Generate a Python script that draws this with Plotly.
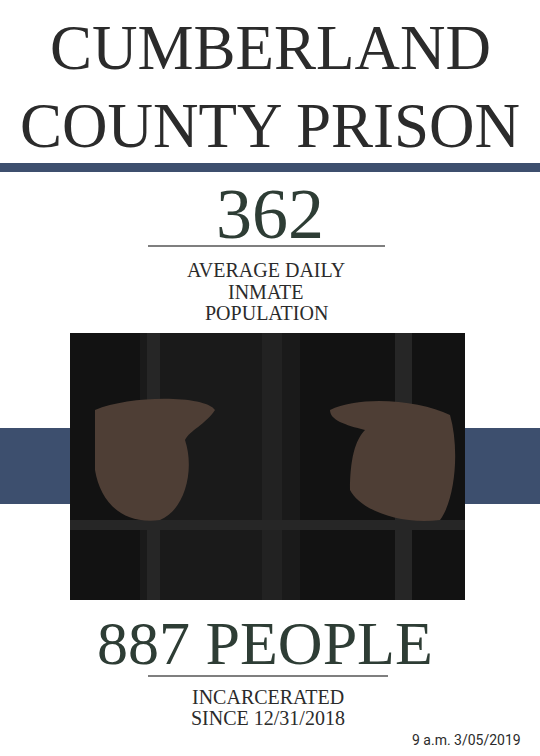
import plotly.graph_objects as go

title_lines = ["CUMBERLAND", "COUNTY PRISON"]
stat_values = [362, 887]
stat_suffix = ["", " PEOPLE"]
stat_labels = [["AVERAGE DAILY", "INMATE", "POPULATION"], ["INCARCERATED", "SINCE 12/31/2018"]]
timestamp = "9 a.m. 3/05/2019"

NAVY = "#3d4f6e"
DARK = "#2b2b2b"
GREEN = "#2e3d35"
SERIF = "Liberation Serif"

fig = go.Figure()
shapes = [
    dict(type="rect", x0=0, x1=540, y0=163, y1=172, fillcolor=NAVY, line_width=0),
    dict(type="rect", x0=0, x1=540, y0=428, y1=504, fillcolor=NAVY, line_width=0),
    dict(type="rect", x0=70, x1=465, y0=333, y1=600, fillcolor="#121212", line_width=0),
    dict(type="rect", x0=140, x1=300, y0=333, y1=600, fillcolor="#1a1a1a", line_width=0),
    dict(type="rect", x0=147, x1=160, y0=333, y1=600, fillcolor="#262626", line_width=0),
    dict(type="rect", x0=262, x1=282, y0=333, y1=600, fillcolor="#222", line_width=0),
    dict(type="rect", x0=395, x1=412, y0=333, y1=600, fillcolor="#262626", line_width=0),
    dict(type="rect", x0=70, x1=465, y0=520, y1=530, fillcolor="#262626", line_width=0),
    dict(type="path", path="M 95 410 C 130 395, 205 395, 215 410 C 205 425, 190 430, 185 440 C 195 470, 185 510, 160 520 C 120 525, 100 500, 95 470 Z",
         fillcolor="#4e3e35", line_width=0),
    dict(type="path", path="M 330 410 C 360 395, 420 400, 450 415 C 460 450, 455 500, 440 520 C 400 525, 360 510, 350 490 C 350 460, 355 440, 365 430 C 345 425, 330 420, 330 410 Z",
         fillcolor="#4e3e35", line_width=0),
    dict(type="line", x0=148, x1=385, y0=246, y1=246, line=dict(color="#555", width=1.5)),
    dict(type="line", x0=148, x1=388, y0=676, y1=676, line=dict(color="#555", width=1.5)),
]

ann = []
for i, t in enumerate(title_lines):
    ann.append(dict(x=270, y=48 + i * 78, text=t, font=dict(family=SERIF, size=63, color=DARK)))
ann.append(dict(x=270, y=214, text=f"{stat_values[0]:,}{stat_suffix[0]}", font=dict(family=SERIF, size=72, color=GREEN)))
for i, t in enumerate(stat_labels[0]):
    ann.append(dict(x=266, y=270 + i * 21.5, text=t, font=dict(family=SERIF, size=20, color=DARK)))
ann.append(dict(x=265, y=643, text=f"{stat_values[1]:,}{stat_suffix[1]}", font=dict(family=SERIF, size=62, color=GREEN)))
for i, t in enumerate(stat_labels[1]):
    ann.append(dict(x=268, y=697 + i * 21, text=t, font=dict(family=SERIF, size=20, color=DARK)))
ann.append(dict(x=466, y=740, text=timestamp, font=dict(family="Roboto", size=14, color=DARK)))
for a in ann:
    a.update(xref="x", yref="y", showarrow=False)

fig.update_layout(
    width=540, height=756, margin=dict(l=0, r=0, t=0, b=0),
    paper_bgcolor="white", plot_bgcolor="white",
    xaxis=dict(range=[0, 540], visible=False, fixedrange=True),
    yaxis=dict(range=[756, 0], visible=False, fixedrange=True),
    shapes=shapes, annotations=ann, showlegend=False,
)
fig.write_html("out.html", config={"displayModeBar": False},
               post_script="document.body.style.margin='0';document.body.style.overflow='hidden';")
